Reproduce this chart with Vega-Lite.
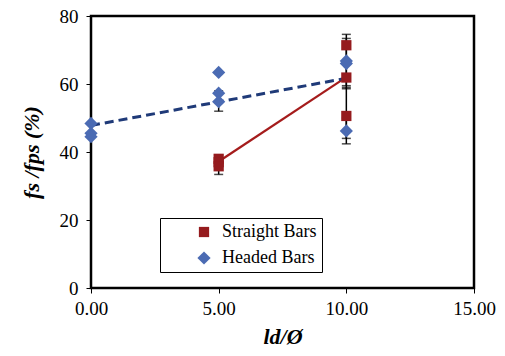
{
  "$schema": "https://vega.github.io/schema/vega-lite/v6.json",
  "autosize": "none",
  "width": 383,
  "height": 272,
  "padding": {"left": 91, "top": 16, "right": 31, "bottom": 68},
  "background": "white",
  "config": {
    "view": {"stroke": "black", "strokeWidth": 2.5},
    "axis": {"grid": false, "domain": false, "tickColor": "black", "tickSize": 5, "labelColor": "black", "labelFontSize": 19, "labelOverlap": false, "labelFlush": false, "titleColor": "black", "titleFontSize": 22, "titleFontWeight": "bold", "titleFontStyle": "italic"}
  },
  "datasets": {
    "pts": [
      {"ratio": 0, "stress": 48.4, "series": "Headed Bars"},
      {"ratio": 0, "stress": 45.5, "series": "Headed Bars"},
      {"ratio": 0, "stress": 44.5, "series": "Headed Bars"},
      {"ratio": 5, "stress": 63.4, "series": "Headed Bars"},
      {"ratio": 5, "stress": 57.3, "series": "Headed Bars"},
      {"ratio": 5, "stress": 54.8, "series": "Headed Bars"},
      {"ratio": 10, "stress": 66.8, "series": "Headed Bars"},
      {"ratio": 10, "stress": 66.0, "series": "Headed Bars"},
      {"ratio": 10, "stress": 46.2, "series": "Headed Bars"},
      {"ratio": 5, "stress": 38.0, "series": "Straight Bars"},
      {"ratio": 5, "stress": 37.0, "series": "Straight Bars"},
      {"ratio": 5, "stress": 35.8, "series": "Straight Bars"},
      {"ratio": 10, "stress": 71.4, "series": "Straight Bars"},
      {"ratio": 10, "stress": 61.9, "series": "Straight Bars"},
      {"ratio": 10, "stress": 50.6, "series": "Straight Bars"}
    ],
    "fit": [
      {"ratio": 0, "stress": 47.8, "series": "Headed Bars"},
      {"ratio": 10, "stress": 61.7, "series": "Headed Bars"},
      {"ratio": 5, "stress": 37.2, "series": "Straight Bars"},
      {"ratio": 10, "stress": 62.0, "series": "Straight Bars"}
    ],
    "err": [
      {"ratio": 5, "lo": 33.4, "hi": 39.0},
      {"ratio": 5, "lo": 52.0, "hi": 58.0},
      {"ratio": 10, "lo": 59.5, "hi": 74.6},
      {"ratio": 10, "lo": 58.6, "hi": 73.4},
      {"ratio": 10, "lo": 44.0, "hi": 59.0},
      {"ratio": 10, "lo": 42.4, "hi": 50.0}
    ]
  },
  "layer": [
    {
      "data": {"name": "err"},
      "mark": {"type": "rule", "color": "black", "strokeWidth": 1.5},
      "encoding": {
        "x": {"field": "ratio", "type": "quantitative", "scale": {"domain": [0, 15], "nice": false, "zero": false}, "axis": {"values": [0, 5, 10, 15], "format": ".2f", "title": "ld/Ø", "titlePadding": 8, "labelPadding": 6, "labelFont": "Times New Roman", "titleFont": "Times New Roman", "labelOverlap": false}},
        "y": {"field": "lo", "type": "quantitative", "scale": {"domain": [0, 80], "nice": false}, "axis": {"values": [0, 10, 20, 30, 40, 50, 60, 70, 80], "title": "fs /fps (%)", "titlePadding": 16, "labelPadding": 8, "labelFont": "Times New Roman", "titleFont": "Times New Roman", "labelOverlap": false}},
        "y2": {"field": "hi"}
      }
    },
    {
      "data": {"name": "err"},
      "mark": {"type": "tick", "orient": "horizontal", "color": "black", "size": 9, "thickness": 1.5},
      "encoding": {
        "x": {"field": "ratio", "type": "quantitative"},
        "y": {"field": "lo", "type": "quantitative"}
      }
    },
    {
      "data": {"name": "err"},
      "mark": {"type": "tick", "orient": "horizontal", "color": "black", "size": 9, "thickness": 1.5},
      "encoding": {
        "x": {"field": "ratio", "type": "quantitative"},
        "y": {"field": "hi", "type": "quantitative"}
      }
    },
    {
      "data": {"name": "fit"},
      "transform": [{"filter": "datum.series == 'Straight Bars'"}],
      "mark": {"type": "line", "color": "#A51C1C", "strokeWidth": 2.2},
      "encoding": {
        "x": {"field": "ratio", "type": "quantitative"},
        "y": {"field": "stress", "type": "quantitative"}
      }
    },
    {
      "data": {"name": "fit"},
      "transform": [{"filter": "datum.series == 'Headed Bars'"}],
      "mark": {"type": "line", "color": "#1F3A78", "strokeWidth": 3, "strokeDash": [9, 5]},
      "encoding": {
        "x": {"field": "ratio", "type": "quantitative"},
        "y": {"field": "stress", "type": "quantitative"}
      }
    },
    {
      "data": {"name": "pts"},
      "mark": {"type": "point", "filled": true, "opacity": 1, "strokeWidth": 1},
      "encoding": {
        "x": {"field": "ratio", "type": "quantitative"},
        "y": {"field": "stress", "type": "quantitative"},
        "size": {"field": "series", "type": "nominal", "scale": {"domain": ["Straight Bars", "Headed Bars"], "range": [105, 175]}, "legend": null},
        "color": {"field": "series", "type": "nominal", "scale": {"domain": ["Straight Bars", "Headed Bars"], "range": ["#951B1E", "#4B6BB3"]}, "legend": {"title": null, "orient": "none", "legendX": 69, "legendY": 202, "strokeColor": "black", "fillColor": "white", "padding": 5, "labelFont": "Times New Roman", "labelFontSize": 18, "labelColor": "black", "symbolSize": 110, "rowPadding": 8, "labelOffset": 9, "symbolOffset": 30, "labelExpr": "datum.label + '      '"}},
        "shape": {"field": "series", "type": "nominal", "scale": {"domain": ["Straight Bars", "Headed Bars"], "range": ["square", "diamond"]}}
      }
    }
  ]
}
